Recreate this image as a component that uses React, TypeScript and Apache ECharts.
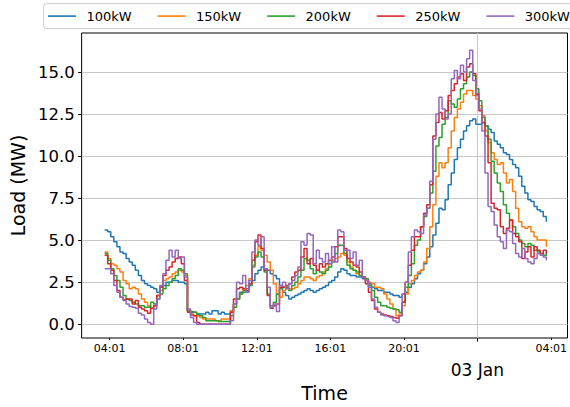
import React, { useEffect, useRef } from "react";
import * as echarts from "echarts";

// Sampling: every 10 minutes from 02 Jan 03:45 (minutes counted from 02 Jan 00:00)
const START_MIN = 225;
const STEP_MIN = 10;

const seriesNames = ["100kW", "150kW", "200kW", "250kW", "300kW"];
const colors = ["#1f77b4", "#ff7f0e", "#2ca02c", "#d62728", "#9467bd"];

const load100 = [
  5.6, 5.5, 5.2, 4.9, 4.6, 4.3, 4.2, 3.9, 3.7, 3.5,
  3.2, 2.9, 2.6, 2.4, 2.3, 2.2, 2.1, 1.9, 2.2, 2.3,
  2.5, 2.5, 2.6, 2.6, 2.5, 2.5, 2.4, 0.8, 0.7, 0.7,
  0.6, 0.6, 0.6, 0.7, 0.6, 0.8, 0.8, 0.6, 0.7, 0.6,
  0.6, 0.8, 1.2, 1.5, 1.9, 2.0, 2.0, 2.3, 2.6, 3.0,
  3.2, 3.4, 3.3, 3.2, 3.0, 2.9, 2.7, 2.3, 1.9, 1.7,
  1.5, 1.6, 1.7, 1.8, 1.9, 2.0, 2.1, 2.0, 1.9, 2.0,
  2.1, 2.2, 2.3, 2.5, 2.6, 2.8, 3.1, 3.3, 3.2, 3.0,
  2.9, 2.9, 2.8, 2.8, 2.7, 2.6, 2.4, 2.2, 2.1, 2.0,
  2.0, 1.9, 1.9, 1.8, 1.7, 1.7, 1.6, 1.8, 1.9, 2.2,
  2.4, 2.7, 3.0, 3.2, 3.6, 4.0, 4.6, 5.3, 6.0, 6.9,
  6.8, 7.4, 8.3, 9.0, 9.8, 10.5, 11.0, 11.5, 11.8, 12.1,
  12.2, 11.9, 11.9, 12.0, 11.8, 11.6, 11.4, 10.9, 10.7, 10.5,
  10.2, 10.1, 9.8, 9.5, 9.3, 8.8, 8.2, 7.8, 7.4, 7.3,
  7.0, 6.8, 6.7, 6.4, 6.1,
];

const load150 = [
  4.3, 3.9, 3.6, 3.5, 3.3, 3.1, 2.6, 2.4, 2.1, 2.2,
  2.1, 1.8, 1.5, 1.3, 1.1, 0.95, 1.1, 1.7, 2.0, 2.6,
  2.7, 2.8, 3.0, 3.1, 3.2, 3.1, 2.9, 0.8, 0.6, 0.5,
  0.5, 0.4, 0.3, 0.3, 0.3, 0.3, 0.2, 0.2, 0.3, 0.3,
  0.3, 0.8, 1.2, 1.5, 1.8, 2.1, 2.3, 2.7, 3.5, 4.1,
  4.6, 4.4, 4.1, 3.7, 3.2, 2.4, 1.8, 1.6, 2.0, 2.2,
  2.1, 2.1, 2.2, 2.4, 2.6, 2.8, 2.8, 2.7, 2.6, 2.8,
  2.9, 3.1, 3.3, 3.6, 3.8, 3.9, 4.0, 4.2, 4.1, 3.7,
  3.4, 3.2, 3.0, 2.9, 2.8, 2.6, 2.5, 2.4, 2.2, 2.2,
  2.1, 1.8, 1.5, 1.2, 0.9, 0.5, 0.6, 1.1, 1.8, 2.4,
  2.6, 2.9, 3.1, 3.2, 3.7, 4.5, 5.8, 7.1, 8.8, 9.6,
  9.3, 9.6, 10.5, 11.5, 12.3, 12.8, 13.2, 13.7, 13.9, 13.9,
  13.6, 13.4, 13.0, 12.4, 11.5, 10.8, 10.2, 9.8, 9.5, 9.6,
  9.0, 8.4, 8.6, 7.9, 6.9, 6.1, 5.8, 5.7, 5.8, 5.5,
  5.2, 5.0, 5.0, 5.0, 4.6,
];

const load200 = [
  4.2, 3.8, 3.3, 2.9, 2.6, 2.2, 1.7, 1.5, 1.4, 1.3,
  1.2, 1.1, 1.1, 1.0, 1.0, 1.3, 1.2, 1.5, 1.8, 2.1,
  2.3, 2.5, 2.7, 2.9, 3.3, 3.2, 3.0, 0.8, 0.75, 0.7,
  0.6, 0.5, 0.4, 0.2, 0.2, 0.2, 0.2, 0.15, 0.15, 0.15,
  0.15, 0.5, 1.0, 1.5, 1.8, 1.9, 2.1, 2.3, 3.4, 4.0,
  4.3, 4.0, 3.1, 1.8, 1.1, 1.3, 1.8, 2.1, 2.2, 2.2,
  2.0, 2.3, 2.5, 2.8, 3.2, 3.9, 3.8, 3.3, 3.0, 3.2,
  3.1, 3.0, 3.2, 3.4, 3.7, 4.2, 4.7, 4.7, 4.2, 3.5,
  3.3, 3.2, 3.1, 2.9, 2.8, 2.7, 2.3, 2.0, 1.6, 1.3,
  1.1, 1.1, 1.0, 0.95, 0.9, 0.85, 0.7, 1.3, 2.2, 2.9,
  3.6, 4.7, 5.0, 5.8, 6.4, 6.9, 7.8, 9.1, 10.6, 11.1,
  11.9, 12.3, 13.3, 13.1, 12.9, 13.4, 14.0, 14.3, 14.7, 15.0,
  14.8, 14.0, 13.3, 12.3, 11.8, 11.0, 9.7, 9.0, 8.4, 7.9,
  7.1, 6.6, 6.2, 5.8, 5.4, 5.0, 4.8, 4.6, 4.8, 4.7,
  4.4, 4.3, 4.2, 4.1, 4.3,
];

const load250 = [
  4.1, 3.6, 3.2, 2.6, 2.0, 1.6, 1.45, 1.5, 1.5, 1.2,
  1.4, 1.0, 0.9, 0.8, 0.65, 0.95, 1.1, 1.7, 2.2, 2.9,
  3.2, 3.4, 3.7, 3.9, 4.0, 3.6, 2.6, 0.7, 0.55, 0.5,
  0.1, 0, 0, 0, 0, 0, 0, 0, 0, 0,
  0, 0.7, 1.5, 2.1, 2.2, 2.1, 1.9, 2.4, 3.8, 4.9,
  5.3, 4.5, 3.2, 1.7, 0.95, 1.1, 1.2, 2.2, 2.2, 2.3,
  2.4, 2.8, 3.1, 3.2, 4.0, 4.5, 3.6, 3.9, 3.5, 3.2,
  3.6, 3.4, 3.6, 3.8, 4.0, 4.6, 5.2, 5.2, 4.5, 3.9,
  3.7, 3.5, 3.4, 3.1, 2.8, 2.4, 1.9, 1.4, 0.9, 0.7,
  0.6, 0.55, 0.5, 0.45, 0.4, 0.35, 0.5, 1.3, 2.5, 3.5,
  4.4, 5.2, 5.2, 5.8, 6.6, 7.1, 8.3, 11.2, 12.0, 12.6,
  12.2, 12.7, 13.6, 13.9, 14.3, 14.7, 14.9, 14.5, 15.3, 15.5,
  14.9, 13.7, 12.7, 12.0, 11.2, 9.6, 7.2, 6.9, 6.8, 5.8,
  5.4, 5.7, 6.2, 5.4, 5.2, 4.9, 3.9, 4.3, 4.6, 4.0,
  4.6, 4.4, 4.2, 4.4, 4.2,
];

const load300 = [
  3.3, 3.3, 3.0, 2.3, 1.9, 1.6, 1.4, 1.2, 1.05, 1.0,
  0.95, 0.65, 0.55, 0.3, 0.1, 0, 0.9, 1.5, 2.3, 3.0,
  3.8, 4.4, 4.0, 4.4, 3.9, 4.0, 2.8, 0.9, 0.4, 0.1,
  0, 0, 0, 0, 0, 0, 0, 0, 0, 0,
  0, 0.2, 1.2, 2.5, 2.4, 2.9, 1.9, 2.6, 4.3, 5.0,
  4.7, 5.2, 3.3, 2.2, 1.0, 1.2, 0.75, 2.3, 2.5, 2.1,
  2.4, 2.6, 2.9, 3.4, 4.9, 4.7, 5.4, 5.3, 3.6, 4.4,
  3.9, 3.7, 4.2, 3.6, 4.6, 3.7, 5.6, 5.5, 4.4, 4.4,
  3.9, 4.3, 3.5, 3.8, 2.8, 2.6, 2.2, 1.5, 1.0, 0.7,
  0.55, 0.5, 0.45, 0.4, 0.2, 0.1, 0.5, 1.8, 2.5, 4.3,
  5.2, 5.6, 5.5, 5.4, 6.5, 6.9, 8.5, 11.0, 12.5, 13.5,
  12.8, 12.2, 12.5, 14.6, 15.1, 14.6, 15.4, 15.0, 15.8, 16.3,
  14.5, 13.6, 12.8, 11.5, 9.0, 7.0, 6.7, 5.9, 5.2, 4.9,
  4.5, 5.6, 5.5, 4.8, 4.2, 4.0, 4.5, 3.9, 3.7, 3.6,
  3.9, 4.2, 4.1, 4.0, 3.8,
];

const allLoads = [load100, load150, load200, load250, load300];

// Axis ticks (minutes from 02 Jan 00:00)
const hourTicks = [241, 481, 721, 961, 1201, 1681];
const dayTicks = [1440];
const dayLabel = "03 Jan";
const yTicks = [0, 2.5, 5, 7.5, 10, 12.5, 15];
const xMin = 150;
const xMax = 1734;
const yMin = -0.825;
const yMax = 17.325;

const FONT = "DejaVu Sans";

function fmtTime(v: number): string {
  const m = ((Math.round(v) % 1440) + 1440) % 1440;
  const hh = Math.floor(m / 60);
  const mm = m % 60;
  return String(hh).padStart(2, "0") + ":" + String(mm).padStart(2, "0");
}

export default function App() {
  const ref = useRef<HTMLDivElement>(null);

  useEffect(() => {
    if (!ref.current) return;
    const chart = echarts.init(ref.current, undefined, { renderer: "svg" });
    const gridColor = "#c8c8c8";

    const series = allLoads.map((vals, k) => ({
      name: seriesNames[k],
      type: "line",
      xAxisIndex: 0,
      yAxisIndex: 0,
      showSymbol: false,
      symbol: "none",
      step: "end",
      data: vals.map((v, i) => [START_MIN + i * STEP_MIN, v]),
      lineStyle: { width: 1.5, color: colors[k] },
      itemStyle: { color: colors[k] },
      z: 3 + k,
    }));

    chart.setOption({
      animation: false,
      textStyle: { fontFamily: FONT },
      legend: {
        data: seriesNames,
        left: 43.6,
        top: 3.6,
        width: 560,
        padding: [5, 5, 5, 4.4],
        icon: "rect",
        itemWidth: 28,
        itemHeight: 1.6,
        itemGap: 26,
        borderColor: "#cccccc",
        borderWidth: 1,
        borderRadius: 3,
        textStyle: {
          fontSize: 13,
          lineHeight: 15,
          color: "#000",
          fontFamily: FONT,
          padding: [0, 0, 0, 5.4],
          width: 45,
        },
      },
      grid: {
        left: 79,
        top: 33,
        right: 0,
        bottom: 69,
        show: true,
        borderColor: "#000",
        borderWidth: 1,
        backgroundColor: "transparent",
        containLabel: false,
      },
      xAxis: [
        {
          type: "value",
          position: "bottom",
          min: xMin,
          max: xMax,
          axisLine: { show: false, onZero: false },
          axisTick: { show: true, customValues: hourTicks, length: 2, lineStyle: { color: "#000" } },
          minorTick: { show: false },
          axisLabel: {
            show: true,
            customValues: hourTicks,
            formatter: (v: number) => fmtTime(v),
            fontSize: 11,
            color: "#000",
            margin: 5,
            fontFamily: FONT,
          },
          splitLine: { show: false },
          name: "Time",
          nameLocation: "middle",
          nameGap: 45,
          nameTextStyle: { fontSize: 19, color: "#000", fontFamily: FONT },
        },
        {
          type: "value",
          position: "bottom",
          min: xMin,
          max: xMax,
          axisLine: { show: false, onZero: false },
          axisTick: { show: true, customValues: dayTicks, length: 3.5, lineStyle: { color: "#000" } },
          minorTick: { show: false },
          axisLabel: {
            show: true,
            customValues: dayTicks,
            formatter: () => dayLabel,
            fontSize: 17,
            color: "#000",
            margin: 23,
            fontFamily: FONT,
          },
          splitLine: { show: true, lineStyle: { color: gridColor, width: 1 } },
        },
      ],
      yAxis: {
        type: "value",
        min: yMin,
        max: yMax,
        axisLine: { show: false, onZero: false },
        axisTick: { show: true, customValues: yTicks, length: 3.5, lineStyle: { color: "#000" } },
        axisLabel: {
          show: true,
          customValues: yTicks,
          formatter: (v: number) => v.toFixed(1),
          fontSize: 16.5,
          color: "#000",
          margin: 7,
          fontFamily: FONT,
        },
        splitLine: { show: true, lineStyle: { color: gridColor, width: 1 } },
        name: "Load (MW)",
        nameLocation: "middle",
        nameGap: 52,
        nameRotate: 90,
        nameTextStyle: { fontSize: 19, color: "#000", fontFamily: FONT },
      },
      series,
    });

    return () => chart.dispose();
  }, []);

  return (
    <div
      ref={ref}
      style={{ position: "fixed", left: 0, top: 0, width: 570, height: 407, background: "#fff" }}
    />
  );
}
